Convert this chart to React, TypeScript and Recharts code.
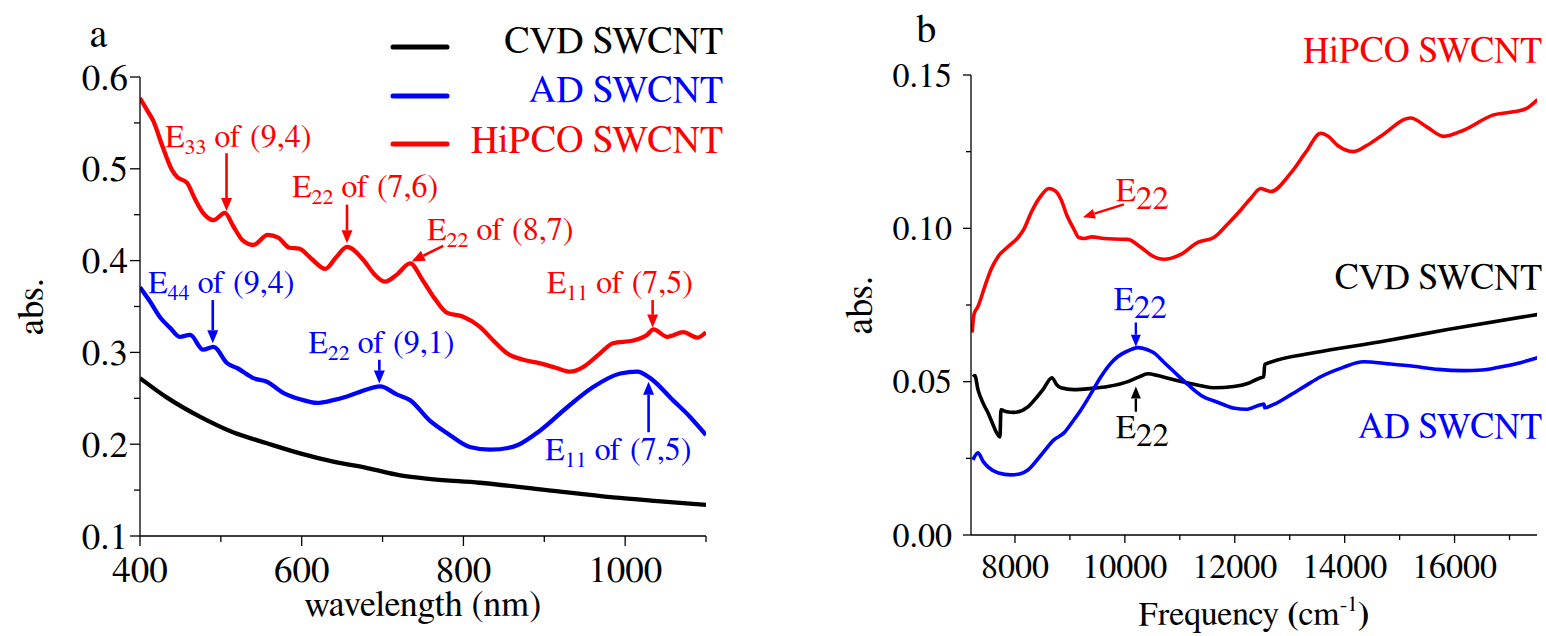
import React from 'react';
import {
  LineChart,
  Line,
  XAxis,
  YAxis,
  Legend,
  ReferenceLine,
  ReferenceDot,
  Label,
  Customized,
} from 'recharts';

const RED = '#ff0000';
const BLUE = '#0000ff';
const BLACK = '#000000';

// one Times-style face for every label
const FACE = 'FreeSerif';

const txt = (size: number) => ({ fontFamily: `'${FACE}'`, fontSize: size });

// ---------- panel a: absorbance vs wavelength (nm) ----------
const cvdWavelength: [number, number][] = [
  [400, 0.272], [433, 0.251], [474, 0.23], [515, 0.213], [557, 0.201], [598, 0.19],
  [639, 0.181], [681, 0.174], [722, 0.166], [760, 0.162], [820, 0.158], [903, 0.15],
  [985, 0.142], [1040, 0.138], [1100, 0.134],
];
const adWavelength: [number, number][] = [
  [400, 0.371], [412, 0.356], [425, 0.338], [437, 0.327], [449, 0.317], [462, 0.319],
  [478, 0.303], [491, 0.306], [508, 0.288], [520, 0.283], [540, 0.272], [557, 0.268],
  [577, 0.256], [598, 0.249], [619, 0.245], [639, 0.248], [656, 0.252], [672, 0.257],
  [697, 0.263], [718, 0.254], [734, 0.248], [758, 0.226], [780, 0.212], [808, 0.197],
  [833, 0.194], [861, 0.197], [895, 0.215], [928, 0.24], [960, 0.262], [994, 0.277],
  [1015, 0.279], [1031, 0.272], [1059, 0.248], [1080, 0.23], [1100, 0.21],
];
const hipcoWavelength: [number, number][] = [
  [400, 0.577], [410, 0.562], [416, 0.553], [428, 0.524], [440, 0.498], [446, 0.491],
  [458, 0.485], [468, 0.467], [478, 0.452], [491, 0.444], [505, 0.452], [515, 0.438],
  [527, 0.422], [540, 0.417], [558, 0.428], [571, 0.425], [585, 0.414], [597, 0.413],
  [612, 0.402], [629, 0.391], [642, 0.403], [656, 0.415], [676, 0.401], [690, 0.385],
  [703, 0.377], [718, 0.385], [734, 0.397], [750, 0.378], [765, 0.358], [780, 0.343],
  [799, 0.339], [820, 0.328], [838, 0.312], [854, 0.299], [874, 0.292], [895, 0.288],
  [915, 0.283], [932, 0.279], [948, 0.284], [969, 0.299], [985, 0.31], [1010, 0.313],
  [1027, 0.319], [1035, 0.325], [1052, 0.317], [1072, 0.322], [1089, 0.316], [1100, 0.322],
];
const wavelengthTicks = [400, 500, 600, 700, 800, 900, 1000, 1100];
const wavelengthLabelled = [400, 600, 800, 1000];
const absTicksA = [0.1, 0.15, 0.2, 0.25, 0.3, 0.35, 0.4, 0.45, 0.5, 0.55, 0.6];

// ---------- panel b: absorbance vs frequency (cm-1) ----------
const cvdFrequency: [number, number][] = [
  [7236, 0.0516], [7270, 0.052], [7327, 0.0474], [7420, 0.043], [7509, 0.0399],
  [7600, 0.036], [7655, 0.0337], [7727, 0.032], [7745, 0.0408], [7850, 0.0402],
  [7982, 0.04], [8236, 0.0418], [8400, 0.045], [8509, 0.0474], [8673, 0.0513],
  [8760, 0.049], [8836, 0.048], [9073, 0.0474], [9400, 0.0478], [9691, 0.0484],
  [10055, 0.05], [10250, 0.0515], [10418, 0.0526], [10600, 0.052], [10891, 0.0506],
  [11382, 0.0487], [11618, 0.048], [11982, 0.0484], [12250, 0.0495], [12473, 0.0513],
  [12527, 0.0516], [12545, 0.0556], [13436, 0.0594], [14655, 0.063], [15873, 0.067],
  [17509, 0.0719],
];
const adFrequency: [number, number][] = [
  [7236, 0.0245], [7327, 0.0268], [7420, 0.024], [7509, 0.0222], [7700, 0.0202],
  [7927, 0.0196], [8100, 0.02], [8236, 0.0212], [8473, 0.026], [8709, 0.031],
  [8891, 0.0333], [9050, 0.037], [9200, 0.0408], [9380, 0.046], [9564, 0.0516],
  [9720, 0.0555], [9873, 0.0582], [10050, 0.06], [10236, 0.0611], [10400, 0.0605],
  [10527, 0.0594], [10700, 0.0565], [10891, 0.0533], [11150, 0.049], [11382, 0.0456],
  [11700, 0.0432], [12000, 0.0413], [12200, 0.041], [12473, 0.0425], [12530, 0.0427],
  [12545, 0.0415], [12700, 0.0425], [13018, 0.0457], [13300, 0.0488], [13564, 0.0516],
  [13950, 0.0545], [14345, 0.0565], [14800, 0.0558], [15255, 0.055], [15700, 0.054],
  [16164, 0.0536], [16500, 0.0538], [16782, 0.0546], [17200, 0.0562], [17509, 0.0578],
];
const hipcoFrequency: [number, number][] = [
  [7220, 0.066], [7255, 0.072], [7327, 0.0745], [7450, 0.081], [7564, 0.0866],
  [7700, 0.091], [7873, 0.094], [8055, 0.097], [8170, 0.1], [8291, 0.105],
  [8450, 0.11], [8618, 0.113], [8750, 0.112], [8836, 0.1095], [8950, 0.104],
  [9073, 0.0997], [9160, 0.097], [9255, 0.0967], [9400, 0.0972], [9618, 0.0967],
  [9800, 0.0965], [10055, 0.0964], [10291, 0.0938], [10500, 0.091], [10709, 0.0899],
  [11018, 0.0915], [11327, 0.0954], [11618, 0.097], [11850, 0.101], [12109, 0.106],
  [12300, 0.11], [12473, 0.113], [12560, 0.1125], [12655, 0.112], [13018, 0.118],
  [13300, 0.125], [13564, 0.131], [13700, 0.13], [13873, 0.127], [14164, 0.125],
  [14400, 0.127], [14655, 0.13], [15200, 0.136], [15500, 0.133], [15800, 0.13],
  [16164, 0.132], [16709, 0.137], [17073, 0.138], [17300, 0.139], [17509, 0.142],
];
const frequencyTicks = [8000, 9000, 10000, 11000, 12000, 13000, 14000, 15000, 16000, 17000];
const frequencyLabelled = [8000, 10000, 12000, 14000, 16000];
const absTicksB = [0, 0.025, 0.05, 0.075, 0.1, 0.125, 0.15];

const seriesNames = ['CVD SWCNT', 'AD SWCNT', 'HiPCO SWCNT'];
const seriesColors = [BLACK, BLUE, RED];

// transition labels: E + subscript + remainder, anchored at a data point (text start, baseline)
const transitionsA = [
  { x: 431, y: 0.524, sub: '33', rest: ' of (9,4)', color: RED },
  { x: 588, y: 0.469, sub: '22', rest: ' of (7,6)', color: RED },
  { x: 755, y: 0.4224, sub: '22', rest: ' of (8,7)', color: RED },
  { x: 903, y: 0.3647, sub: '11', rest: ' of (7,5)', color: RED },
  { x: 410, y: 0.365, sub: '44', rest: ' of (9,4)', color: BLUE },
  { x: 608, y: 0.299, sub: '22', rest: ' of (9,1)', color: BLUE },
  { x: 901, y: 0.183, sub: '11', rest: ' of (7,5)', color: BLUE },
];
const arrowsA = [
  { from: [507, 0.517], to: [507, 0.454], color: RED },
  { from: [656, 0.461], to: [656, 0.419], color: RED },
  { from: [775, 0.416], to: [736, 0.399], color: RED },
  { from: [1034, 0.357], to: [1034, 0.327], color: RED },
  { from: [490, 0.357], to: [490, 0.31], color: BLUE },
  { from: [696, 0.292], to: [696, 0.266], color: BLUE },
  { from: [1029, 0.213], to: [1029, 0.268], color: BLUE },
];
const transitionsB = [
  { x: 9836, y: 0.1088, color: RED },
  { x: 9800, y: 0.0735, color: BLUE },
  { x: 9836, y: 0.0317, color: BLACK },
];
const arrowsB = [
  { from: [9982, 0.1078], to: [9236, 0.1036], color: RED },
  { from: [10200, 0.0693], to: [10200, 0.0614], color: BLUE },
  { from: [10200, 0.0402], to: [10200, 0.0484], color: BLACK },
];
const seriesLabelsB = [
  { x: 17500, y: 0.1542, text: 'HiPCO SWCNT', color: RED },
  { x: 17500, y: 0.0801, text: 'CVD SWCNT', color: BLACK },
  { x: 17500, y: 0.0317, text: 'AD SWCNT', color: BLUE },
];

const toRows = (pts: [number, number][]) => pts.map(([x, v]) => ({ x, v }));

const nearly = (a: number, b: number) => Math.abs(a - b) < 1e-9;

function makeYTick(labelled: (v: number) => boolean, fmt: (v: number) => string, size: number, major: number, minor: number, gap: number) {
  return (props: any) => {
    const { x, y, payload } = props;
    const v = payload.value;
    const isMajor = labelled(v);
    return (
      <g>
        <line x1={x} x2={x - (isMajor ? major : minor)} y1={y} y2={y} stroke={BLACK} strokeWidth={1.3} />
        {isMajor && (
          <text x={x - gap} y={y + size * 0.34} textAnchor="end" fill={BLACK} style={txt(size)}>
            {fmt(v)}
          </text>
        )}
      </g>
    );
  };
}

function makeXTick(labelled: number[], size: number, major: number, minor: number, drop: number) {
  return (props: any) => {
    const { x, y, payload } = props;
    const v = payload.value;
    const isMajor = labelled.includes(v);
    return (
      <g>
        <line x1={x} x2={x} y1={y} y2={y + (isMajor ? major : minor)} stroke={BLACK} strokeWidth={1.3} />
        {isMajor && (
          <text x={x} y={y + drop} textAnchor="middle" fill={BLACK} style={txt(size)}>
            {v}
          </text>
        )}
      </g>
    );
  };
}

function arrowShape(color: string, width: number, head: number, half: number) {
  return (p: any) => {
    const { x1, y1, x2, y2 } = p;
    const dx = x2 - x1;
    const dy = y2 - y1;
    const len = Math.hypot(dx, dy) || 1;
    const ux = dx / len;
    const uy = dy / len;
    const bx = x2 - ux * head;
    const by = y2 - uy * head;
    const px = -uy;
    const py = ux;
    return (
      <g>
        <line x1={x1} y1={y1} x2={bx} y2={by} stroke={color} strokeWidth={width} />
        <polygon
          points={`${x2},${y2} ${bx + px * half},${by + py * half} ${bx - px * half},${by - py * half}`}
          fill={color}
        />
      </g>
    );
  };
}

const yTickA = makeYTick((v) => nearly(v * 10, Math.round(v * 10)), (v) => v.toFixed(1), 37, 10, 6, 12);
const xTickA = makeXTick(wavelengthLabelled, 37, 10, 6, 46);
const yTickB = makeYTick((v) => nearly(v * 20, Math.round(v * 20)), (v) => v.toFixed(2), 34, 8, 5, 19);
const xTickB = makeXTick(frequencyLabelled, 34, 8, 5, 43);

const LegendA = () => (
  <svg width={760} height={170} style={{ overflow: 'visible' }}>
    {seriesNames.map((name, i) => {
      const lineY = [47, 96, 144][i];
      const baseY = [53, 102, 152][i];
      return (
        <g key={name}>
          <line x1={393} x2={447} y1={lineY} y2={lineY} stroke={seriesColors[i]} strokeWidth={5} strokeLinecap="round" />
          <text x={723} y={baseY} textAnchor="end" fill={seriesColors[i]} style={txt(38)}>
            {name}
          </text>
        </g>
      );
    })}
  </svg>
);

function PanelA() {
  return (
    <LineChart width={760} height={636} margin={{ top: 77, right: 54, bottom: 0, left: 0 }}>
      <XAxis
        type="number"
        dataKey="x"
        domain={[400, 1100]}
        ticks={wavelengthTicks}
        interval={0}
        allowDataOverflow
        height={100}
        stroke={BLACK}
        strokeWidth={1.3}
        tickSize={0}
        tickMargin={0}
        tickLine={false}
        tick={xTickA}
      >
        <Label
          content={(p: any) => {
            const vb = p.viewBox;
            return (
              <text x={vb.x + vb.width / 2} y={vb.y + 80} textAnchor="middle" fill={BLACK} style={txt(36)}>
                wavelength (nm)
              </text>
            );
          }}
        />
      </XAxis>
      <YAxis
        type="number"
        domain={[0.1, 0.6]}
        ticks={absTicksA}
        interval={0}
        allowDataOverflow
        width={140}
        stroke={BLACK}
        strokeWidth={1.3}
        tickSize={0}
        tickMargin={0}
        tickLine={false}
        tick={yTickA}
      >
        <Label
          content={(p: any) => {
            const vb = p.viewBox;
            const cx = vb.x + 43;
            const cy = vb.y + vb.height / 2;
            return (
              <text x={cx} y={cy} transform={`rotate(-90, ${cx}, ${cy})`} textAnchor="middle" fill={BLACK} style={txt(37)}>
                abs.
              </text>
            );
          }}
        />
      </YAxis>
      <Legend
        layout="vertical"
        align="center"
        verticalAlign="middle"
        wrapperStyle={{ position: 'absolute', left: 0, top: 0, width: 760, height: 170 }}
        content={() => <LegendA />}
      />
      <Line data={toRows(cvdWavelength)} dataKey="v" name={seriesNames[0]} type="monotone" stroke={BLACK} strokeWidth={4.3} dot={false} isAnimationActive={false} />
      <Line data={toRows(adWavelength)} dataKey="v" name={seriesNames[1]} type="monotone" stroke={BLUE} strokeWidth={4.3} dot={false} isAnimationActive={false} />
      <Line data={toRows(hipcoWavelength)} dataKey="v" name={seriesNames[2]} type="monotone" stroke={RED} strokeWidth={4.3} dot={false} isAnimationActive={false} />
      {arrowsA.map((a, i) => (
        <ReferenceLine
          key={`aa${i}`}
          segment={[{ x: a.from[0], y: a.from[1] }, { x: a.to[0], y: a.to[1] }]}
          ifOverflow="visible"
          shape={arrowShape(a.color, 2.6, 13, 5.5)}
        />
      ))}
      {transitionsA.map((t, i) => (
        <ReferenceDot
          key={`ta${i}`}
          x={t.x}
          y={t.y}
          r={0}
          ifOverflow="visible"
          shape={(p: any) => (
            <text x={p.cx} y={p.cy} fill={t.color} style={txt(32)}>
              E
              <tspan fontSize={22} dy={7}>{t.sub}</tspan>
              <tspan dy={-7}>{t.rest}</tspan>
            </text>
          )}
        />
      ))}
      <Customized
        component={() => (
          <text x={90} y={47} fill={BLACK} style={txt(40)}>
            a
          </text>
        )}
      />
    </LineChart>
  );
}

function PanelB() {
  return (
    <LineChart width={746} height={636} margin={{ top: 75, right: 9, bottom: 0, left: 0 }}>
      <XAxis
        type="number"
        dataKey="x"
        domain={[7200, 17500]}
        ticks={frequencyTicks}
        interval={0}
        allowDataOverflow
        height={101}
        stroke={BLACK}
        strokeWidth={1.3}
        tickSize={0}
        tickMargin={0}
        tickLine={false}
        tick={xTickB}
      >
        <Label
          content={(p: any) => {
            const vb = p.viewBox;
            return (
              <text x={vb.x + vb.width / 2} y={vb.y + 90} textAnchor="middle" fill={BLACK} style={txt(34)}>
                Frequency <tspan fontWeight="bold">(</tspan>cm
                <tspan fontSize={22} dy={-14}>-1</tspan>
                <tspan dy={14} fontWeight="bold">)</tspan>
              </text>
            );
          }}
        />
      </XAxis>
      <YAxis
        type="number"
        domain={[0, 0.15]}
        ticks={absTicksB}
        interval={0}
        allowDataOverflow
        width={171}
        stroke={BLACK}
        strokeWidth={1.3}
        tickSize={0}
        tickMargin={0}
        tickLine={false}
        tick={yTickB}
      >
        <Label
          content={(p: any) => {
            const vb = p.viewBox;
            const cx = vb.x + 72;
            const cy = vb.y + vb.height / 2;
            return (
              <text x={cx} y={cy} transform={`rotate(-90, ${cx}, ${cy})`} textAnchor="middle" fill={BLACK} style={txt(38)}>
                abs.
              </text>
            );
          }}
        />
      </YAxis>
      <Line data={toRows(cvdFrequency)} dataKey="v" name={seriesNames[0]} type="monotone" stroke={BLACK} strokeWidth={3.6} dot={false} isAnimationActive={false} />
      <Line data={toRows(adFrequency)} dataKey="v" name={seriesNames[1]} type="monotone" stroke={BLUE} strokeWidth={3.6} dot={false} isAnimationActive={false} />
      <Line data={toRows(hipcoFrequency)} dataKey="v" name={seriesNames[2]} type="monotone" stroke={RED} strokeWidth={3.6} dot={false} isAnimationActive={false} />
      {arrowsB.map((a, i) => (
        <ReferenceLine
          key={`ab${i}`}
          segment={[{ x: a.from[0], y: a.from[1] }, { x: a.to[0], y: a.to[1] }]}
          ifOverflow="visible"
          shape={arrowShape(a.color, 2.4, 12, 5)}
        />
      ))}
      {transitionsB.map((t, i) => (
        <ReferenceDot
          key={`tb${i}`}
          x={t.x}
          y={t.y}
          r={0}
          ifOverflow="visible"
          shape={(p: any) => (
            <text x={p.cx} y={p.cy} fill={t.color} style={txt(33)}>
              E
              <tspan dy={8}>22</tspan>
            </text>
          )}
        />
      ))}
      {seriesLabelsB.map((s, i) => (
        <ReferenceDot
          key={`sb${i}`}
          x={s.x}
          y={s.y}
          r={0}
          ifOverflow="visible"
          shape={(p: any) => (
            <text x={p.cx + 5} y={p.cy} textAnchor="end" fill={s.color} style={txt(36)}>
              {s.text}
            </text>
          )}
        />
      ))}
      <Customized
        component={() => (
          <text x={116} y={42} fill={BLACK} style={txt(40)}>
            b
          </text>
        )}
      />
    </LineChart>
  );
}

export default function App() {
  return (
    <div style={{ position: 'absolute', left: 0, top: 0, width: 1546, height: 636, background: '#fff' }}>
      <div style={{ position: 'absolute', left: 0, top: 0 }}>
        <PanelA />
      </div>
      <div style={{ position: 'absolute', left: 800, top: 0 }}>
        <PanelB />
      </div>
    </div>
  );
}
